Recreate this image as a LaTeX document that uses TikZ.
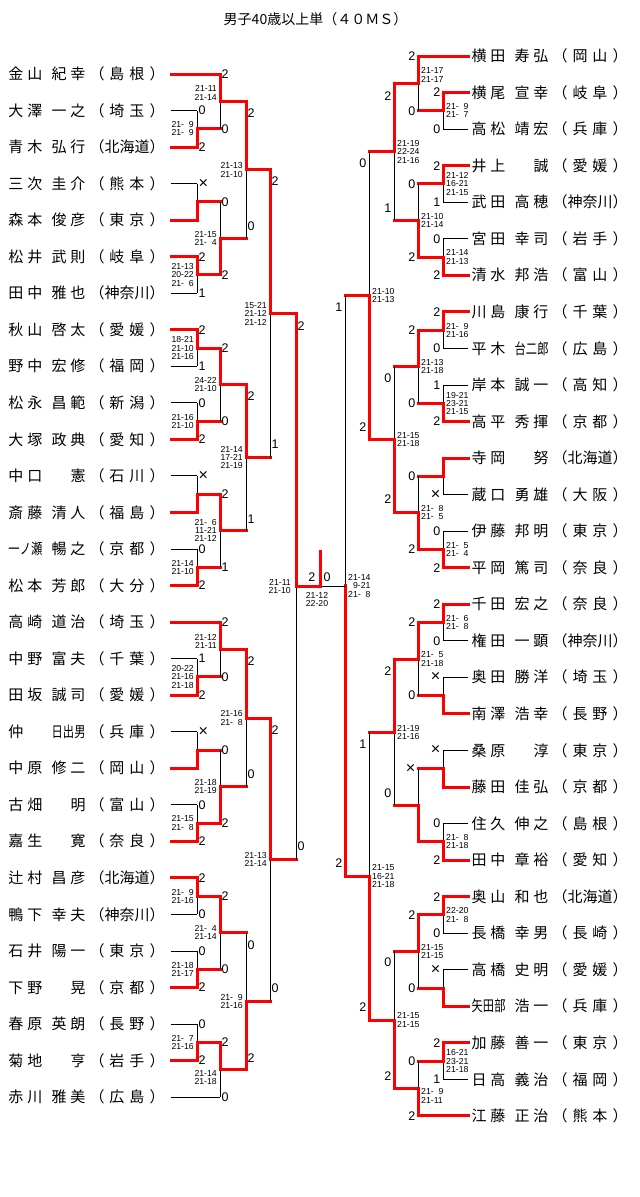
\documentclass[tikz,border=0pt]{standalone}
\usepackage{fontspec}
\usepackage{graphicx}
\usetikzlibrary{calc}
\newfontfamily\jpf{Noto Sans CJK JP}
\newfontfamily\libf{Liberation Sans}
\newcommand\cz[1]{\scalebox{0.75}[1]{#1}}
\newcommand\zs{\hphantom{0}}
\newcommand\nmtwo[2]{#1\hfill #2}
\newcommand\nmthr[3]{\cz{#1}\hfill\cz{#2}\hfill\cz{#3}}
\newcommand\nmone[1]{\hfill #1}
\newcommand\pfa[2]{（\hfill #1\hfill #2\hfill ）}
\newcommand\pfb[3]{（\hfill #1\hfill #2\hfill #3\hfill ）}
\newcommand\xx{\scalebox{1.3}{×}}
\newcounter{nn}
\tikzset{
  nm/.style={inner sep=0pt, outer sep=0pt, anchor=base west, font=\jpf\fontsize{15}{15}\selectfont},
  ttl/.style={inner sep=0pt, anchor=base, font=\jpf\fontsize{14}{14}\selectfont},
  lose/.style={draw=black, line width=0.9pt},
  win/.style={draw=red, line width=3pt, line cap=rect, line join=miter},
  sclab/.style={inner sep=0pt, font=\libf\fontsize{12.5}{12.5}\selectfont},
  sctxt/.style={inner sep=0pt, font=\libf\fontsize{8.7}{8.2}\selectfont},
}
% players
\newcommand\plL[4]{%
  \node[nm] (nL#1s) at (8.5, {79.6+36.54*#1}) {\makebox[34pt][s]{#2}};
  \node[nm] (nL#1g) at (51.5, {79.6+36.54*#1}) {\makebox[34pt][s]{#3}};
  \node[nm] (nL#1p) at (89.5, {79.6+36.54*#1}) {\makebox[75pt][s]{#4}};
  \coordinate (L#1) at (171, {74+36.54*#1});}
\newcommand\plR[4]{%
  \node[nm] (nR#1s) at (471.5, {61.6+36.55*#1}) {\makebox[34pt][s]{#2}};
  \node[nm] (nR#1g) at (514.5, {61.6+36.55*#1}) {\makebox[34pt][s]{#3}};
  \node[nm] (nR#1p) at (552.5, {61.6+36.55*#1}) {\makebox[75pt][s]{#4}};
  \coordinate (R#1) at (468, {56+36.55*#1});}
% match: name, X, top, bottom, winner t/b, loser entrant style
\newcommand\mt[6]{%
  \path let \p1=(#3), \p2=(#4) in ({#2pt},{0.5*(\y1)+0.5*(\y2)}) coordinate (#1);
  \if#5t
    \draw[#6] (#4) -- (#4 -| #1);
    \draw[lose] (#4 -| #1) -- (#1);
    \draw[win] (#3) -| (#1);
  \else
    \draw[#6] (#3) -- (#3 -| #1);
    \draw[lose] (#3 -| #1) -- (#1);
    \draw[win] (#4) -| (#1);
  \fi}
\newcommand\labl[4][0]{\stepcounter{nn}\node[sclab,anchor=west,xshift=1.5pt,yshift=#1pt] (k\thenn) at (#2 -| #3) {#4};}
\newcommand\labr[4][0]{\stepcounter{nn}\node[sclab,anchor=east,xshift=-2.5pt,yshift=#1pt] (k\thenn) at (#2 -| #3) {#4};}
\newcommand\txl[3][0]{\stepcounter{nn}\node[sctxt,anchor=east,align=right,xshift=-3pt,yshift=#1pt] (k\thenn) at (#2) {#3};}
\newcommand\txr[3][0]{\stepcounter{nn}\node[sctxt,anchor=west,align=left,xshift=3pt,yshift=#1pt] (k\thenn) at (#2) {#3};}
\begin{document}
\begin{tikzpicture}[x=1pt,y=-1pt]
\fill[white] (0,0) rectangle (640,1197);
\useasboundingbox (0,0) rectangle (640,1197);
\node[ttl] (title) at (315.5,24.3) {男子40歳以上単（４０ＭＳ）};
% left players
\plL{0}{\nmtwo{金}{山}}{\nmtwo{紀}{幸}}{\pfa{島}{根}}
\plL{1}{\nmtwo{大}{澤}}{\nmtwo{一}{之}}{\pfa{埼}{玉}}
\plL{2}{\nmtwo{青}{木}}{\nmtwo{弘}{行}}{\pfb{北}{海}{道}}
\plL{3}{\nmtwo{三}{次}}{\nmtwo{圭}{介}}{\pfa{熊}{本}}
\plL{4}{\nmtwo{森}{本}}{\nmtwo{俊}{彦}}{\pfa{東}{京}}
\plL{5}{\nmtwo{松}{井}}{\nmtwo{武}{則}}{\pfa{岐}{阜}}
\plL{6}{\nmtwo{田}{中}}{\nmtwo{雅}{也}}{\pfb{神}{奈}{川}}
\plL{7}{\nmtwo{秋}{山}}{\nmtwo{啓}{太}}{\pfa{愛}{媛}}
\plL{8}{\nmtwo{野}{中}}{\nmtwo{宏}{修}}{\pfa{福}{岡}}
\plL{9}{\nmtwo{松}{永}}{\nmtwo{昌}{範}}{\pfa{新}{潟}}
\plL{10}{\nmtwo{大}{塚}}{\nmtwo{政}{典}}{\pfa{愛}{知}}
\plL{11}{\nmtwo{中}{口}}{\nmone{憲}}{\pfa{石}{川}}
\plL{12}{\nmtwo{斎}{藤}}{\nmtwo{清}{人}}{\pfa{福}{島}}
\plL{13}{\nmthr{一}{ノ}{瀬}}{\nmtwo{暢}{之}}{\pfa{京}{都}}
\plL{14}{\nmtwo{松}{本}}{\nmtwo{芳}{郎}}{\pfa{大}{分}}
\plL{15}{\nmtwo{高}{崎}}{\nmtwo{道}{治}}{\pfa{埼}{玉}}
\plL{16}{\nmtwo{中}{野}}{\nmtwo{富}{夫}}{\pfa{千}{葉}}
\plL{17}{\nmtwo{田}{坂}}{\nmtwo{誠}{司}}{\pfa{愛}{媛}}
\plL{18}{仲\hfill}{\nmthr{日}{出}{男}}{\pfa{兵}{庫}}
\plL{19}{\nmtwo{中}{原}}{\nmtwo{修}{二}}{\pfa{岡}{山}}
\plL{20}{\nmtwo{古}{畑}}{\nmone{明}}{\pfa{富}{山}}
\plL{21}{\nmtwo{嘉}{生}}{\nmone{寛}}{\pfa{奈}{良}}
\plL{22}{\nmtwo{辻}{村}}{\nmtwo{昌}{彦}}{\pfb{北}{海}{道}}
\plL{23}{\nmtwo{鴨}{下}}{\nmtwo{幸}{夫}}{\pfb{神}{奈}{川}}
\plL{24}{\nmtwo{石}{井}}{\nmtwo{陽}{一}}{\pfa{東}{京}}
\plL{25}{\nmtwo{下}{野}}{\nmone{晃}}{\pfa{京}{都}}
\plL{26}{\nmtwo{春}{原}}{\nmtwo{英}{朗}}{\pfa{長}{野}}
\plL{27}{\nmtwo{菊}{地}}{\nmone{亨}}{\pfa{岩}{手}}
\plL{28}{\nmtwo{赤}{川}}{\nmtwo{雅}{美}}{\pfa{広}{島}}
% right players
\plR{0}{\nmtwo{横}{田}}{\nmtwo{寿}{弘}}{\pfa{岡}{山}}
\plR{1}{\nmtwo{横}{尾}}{\nmtwo{宣}{幸}}{\pfa{岐}{阜}}
\plR{2}{\nmtwo{高}{松}}{\nmtwo{靖}{宏}}{\pfa{兵}{庫}}
\plR{3}{\nmtwo{井}{上}}{\nmone{誠}}{\pfa{愛}{媛}}
\plR{4}{\nmtwo{武}{田}}{\nmtwo{高}{穂}}{\pfb{神}{奈}{川}}
\plR{5}{\nmtwo{宮}{田}}{\nmtwo{幸}{司}}{\pfa{岩}{手}}
\plR{6}{\nmtwo{清}{水}}{\nmtwo{邦}{浩}}{\pfa{富}{山}}
\plR{7}{\nmtwo{川}{島}}{\nmtwo{康}{行}}{\pfa{千}{葉}}
\plR{8}{\nmtwo{平}{木}}{\nmthr{台}{二}{郎}}{\pfa{広}{島}}
\plR{9}{\nmtwo{岸}{本}}{\nmtwo{誠}{一}}{\pfa{高}{知}}
\plR{10}{\nmtwo{高}{平}}{\nmtwo{秀}{揮}}{\pfa{京}{都}}
\plR{11}{\nmtwo{寺}{岡}}{\nmone{努}}{\pfb{北}{海}{道}}
\plR{12}{\nmtwo{蔵}{口}}{\nmtwo{勇}{雄}}{\pfa{大}{阪}}
\plR{13}{\nmtwo{伊}{藤}}{\nmtwo{邦}{明}}{\pfa{東}{京}}
\plR{14}{\nmtwo{平}{岡}}{\nmtwo{篤}{司}}{\pfa{奈}{良}}
\plR{15}{\nmtwo{千}{田}}{\nmtwo{宏}{之}}{\pfa{奈}{良}}
\plR{16}{\nmtwo{権}{田}}{\nmtwo{一}{顕}}{\pfb{神}{奈}{川}}
\plR{17}{\nmtwo{奥}{田}}{\nmtwo{勝}{洋}}{\pfa{埼}{玉}}
\plR{18}{\nmtwo{南}{澤}}{\nmtwo{浩}{幸}}{\pfa{長}{野}}
\plR{19}{\nmtwo{桑}{原}}{\nmone{淳}}{\pfa{東}{京}}
\plR{20}{\nmtwo{藤}{田}}{\nmtwo{佳}{弘}}{\pfa{京}{都}}
\plR{21}{\nmtwo{住}{久}}{\nmtwo{伸}{之}}{\pfa{島}{根}}
\plR{22}{\nmtwo{田}{中}}{\nmtwo{章}{裕}}{\pfa{愛}{知}}
\plR{23}{\nmtwo{奥}{山}}{\nmtwo{和}{也}}{\pfb{北}{海}{道}}
\plR{24}{\nmtwo{長}{橋}}{\nmtwo{幸}{男}}{\pfa{長}{崎}}
\plR{25}{\nmtwo{高}{橋}}{\nmtwo{史}{明}}{\pfa{愛}{媛}}
\plR{26}{\nmthr{矢}{田}{部}}{\nmtwo{浩}{一}}{\pfa{兵}{庫}}
\plR{27}{\nmtwo{加}{藤}}{\nmtwo{善}{一}}{\pfa{東}{京}}
\plR{28}{\nmtwo{日}{高}}{\nmtwo{義}{治}}{\pfa{福}{岡}}
\plR{29}{\nmtwo{江}{藤}}{\nmtwo{正}{治}}{\pfa{熊}{本}}
% left bracket
\mt{A1}{197}{L1}{L2}{b}{lose}
\mt{A2}{220}{L0}{A1}{t}{win}
\mt{A3}{197}{L3}{L4}{b}{lose}
\mt{A4}{197}{L5}{L6}{t}{lose}
\mt{A5}{220}{A3}{A4}{b}{win}
\mt{A6}{246}{A2}{A5}{t}{win}
\mt{B1}{197}{L7}{L8}{t}{lose}
\mt{B2}{197}{L9}{L10}{b}{lose}
\mt{B3}{220}{B1}{B2}{t}{win}
\mt{B4}{197}{L11}{L12}{b}{lose}
\mt{B5}{197}{L13}{L14}{b}{lose}
\mt{B6}{220}{B4}{B5}{t}{win}
\mt{B7}{246}{B3}{B6}{t}{win}
\mt{B8}{270}{A6}{B7}{t}{win}
\mt{C1}{197}{L16}{L17}{b}{lose}
\mt{C2}{220}{L15}{C1}{t}{win}
\mt{C3}{197}{L18}{L19}{b}{lose}
\mt{C4}{197}{L20}{L21}{b}{lose}
\mt{C5}{220}{C3}{C4}{b}{win}
\mt{C6}{246}{C2}{C5}{t}{win}
\mt{D1}{197}{L22}{L23}{t}{lose}
\mt{D2}{197}{L24}{L25}{b}{lose}
\mt{D3}{220}{D1}{D2}{t}{win}
\mt{D4}{197}{L26}{L27}{b}{lose}
\mt{D5}{220}{D4}{L28}{t}{lose}
\mt{D6}{246}{D3}{D5}{b}{win}
\mt{D7}{270}{C6}{D6}{t}{win}
\mt{LF}{296}{B8}{D7}{t}{win}
% right bracket
\mt{a1}{443}{R1}{R2}{t}{lose}
\mt{a4}{418}{R0}{a1}{t}{win}
\mt{a2}{443}{R3}{R4}{t}{lose}
\mt{a3}{443}{R5}{R6}{b}{lose}
\mt{a5}{418}{a2}{a3}{b}{win}
\mt{a6}{394}{a4}{a5}{t}{win}
\mt{b1}{443}{R7}{R8}{t}{lose}
\mt{b2}{443}{R9}{R10}{b}{lose}
\mt{b5}{418}{b1}{b2}{t}{win}
\mt{b3}{443}{R11}{R12}{t}{lose}
\mt{b4}{443}{R13}{R14}{b}{lose}
\mt{b6}{418}{b3}{b4}{b}{win}
\mt{b7}{394}{b5}{b6}{b}{win}
\mt{b8}{369}{a6}{b7}{b}{win}
\mt{c1}{443}{R15}{R16}{t}{lose}
\mt{c2}{443}{R17}{R18}{b}{lose}
\mt{c5}{418}{c1}{c2}{t}{win}
\mt{c3}{443}{R19}{R20}{b}{lose}
\mt{c4}{443}{R21}{R22}{b}{lose}
\mt{c6}{418}{c3}{c4}{b}{win}
\mt{c7}{394}{c5}{c6}{t}{win}
\mt{d1}{443}{R23}{R24}{t}{lose}
\mt{d2}{443}{R25}{R26}{b}{lose}
\mt{d4}{418}{d1}{d2}{t}{win}
\mt{d3}{443}{R27}{R28}{t}{lose}
\mt{d5}{418}{d3}{R29}{b}{win}
\mt{d6}{394}{d4}{d5}{b}{win}
\mt{d7}{369}{c7}{d6}{b}{win}
\mt{RF}{345}{b8}{d7}{b}{win}
% final
\coordinate (champ) at (320,551.5);
\coordinate (F) at (LF -| champ);
\draw[lose] (RF) -- (RF |- F) -- (F);
\draw[win] (LF) -| (champ);
\node[sclab,anchor=east,xshift=-4.5pt,yshift=10pt] (kF1) at (F) {2};
\node[sclab,anchor=west,xshift=3.5pt,yshift=10pt] (kF2) at (F) {0};
\node[sctxt,align=center,xshift=-3pt,yshift=-12.5pt] (ktxF) at (F) {21-12\\22-20};
\node[sctxt,anchor=east,align=right,xshift=-5pt] (ktxLF) at (LF) {21-11\\21-10};
% left labels R1
\labl{L1}{A1}{0}\labl{L2}{A1}{2}
\labl{L3}{A3}{\xx}
\labl{L5}{A4}{2}\labl{L6}{A4}{1}
\labl{L7}{B1}{2}\labl{L8}{B1}{1}
\labl{L9}{B2}{0}\labl{L10}{B2}{2}
\labl{L11}{B4}{\xx}
\labl{L13}{B5}{0}\labl{L14}{B5}{2}
\labl{L16}{C1}{1}\labl{L17}{C1}{2}
\labl{L18}{C3}{\xx}
\labl{L20}{C4}{0}\labl{L21}{C4}{2}
\labl{L22}{D1}{2}\labl{L23}{D1}{0}
\labl{L24}{D2}{0}\labl{L25}{D2}{2}
\labl{L26}{D4}{0}\labl{L27}{D4}{2}
% left labels R2
\labl{L0}{A2}{2}\labl{A1}{A2}{0}
\labl{A3}{A5}{0}\labl{A4}{A5}{2}
\labl{B1}{B3}{2}\labl{B2}{B3}{0}
\labl{B4}{B6}{2}\labl{B5}{B6}{1}
\labl{L15}{C2}{2}\labl{C1}{C2}{0}
\labl{C3}{C5}{0}\labl{C4}{C5}{2}
\labl{D1}{D3}{2}\labl{D2}{D3}{0}
\labl{D4}{D5}{2}\labl{L28}{D5}{0}
% left labels R3-R5
\labl[-12]{A2}{A6}{2}\labl[12]{A5}{A6}{0}
\labl[-12]{B3}{B7}{2}\labl[12]{B6}{B7}{1}
\labl[-12]{C2}{C6}{2}\labl[12]{C5}{C6}{0}
\labl[-12]{D3}{D6}{0}\labl[12]{D5}{D6}{2}
\labl[-11]{A6}{B8}{2}\labl[13]{B7}{B8}{1}
\labl[-12]{C6}{D7}{2}\labl[13]{D6}{D7}{0}
\labl[-12]{B8}{LF}{2}\labl[13]{D7}{LF}{0}
% right labels R1
\labr{R1}{a1}{2}\labr{R2}{a1}{0}
\labr{R3}{a2}{2}\labr{R4}{a2}{1}
\labr{R5}{a3}{0}\labr{R6}{a3}{2}
\labr{R7}{b1}{2}\labr{R8}{b1}{0}
\labr{R9}{b2}{1}\labr{R10}{b2}{2}
\labr{R12}{b3}{\xx}
\labr{R13}{b4}{0}\labr{R14}{b4}{2}
\labr{R15}{c1}{2}\labr{R16}{c1}{0}
\labr{R17}{c2}{\xx}
\labr{R19}{c3}{\xx}
\labr{R21}{c4}{0}\labr{R22}{c4}{2}
\labr{R23}{d1}{2}\labr{R24}{d1}{0}
\labr{R25}{d2}{\xx}
\labr{R27}{d3}{2}\labr{R28}{d3}{1}
% right labels R2
\labr{R0}{a4}{2}\labr{a1}{a4}{0}
\labr{a2}{a5}{0}\labr{a3}{a5}{2}
\labr{b1}{b5}{2}\labr{b2}{b5}{0}
\labr{b3}{b6}{0}\labr{b4}{b6}{2}
\labr{c1}{c5}{2}\labr{c2}{c5}{0}
\labr{c3}{c6}{\xx}
\labr{d1}{d4}{2}\labr{d2}{d4}{0}
\labr{d3}{d5}{0}\labr{R29}{d5}{2}
% right labels R3-R5
\labr[-13]{a4}{a6}{2}\labr[12]{a5}{a6}{1}
\labr[-12]{b5}{b7}{0}\labr[14]{b6}{b7}{2}
\labr[-12]{c5}{c7}{2}\labr[12]{c6}{c7}{0}
\labr[-11]{d4}{d6}{0}\labr[12]{d5}{d6}{2}
\labr[-11]{a6}{b8}{0}\labr[13]{b7}{b8}{2}
\labr[-12]{c7}{d7}{1}\labr[13]{d6}{d7}{2}
\labr[-11]{b8}{RF}{1}\labr[13]{d7}{RF}{2}
% left game scores
\txl{A1}{21-\zs 9\\21-\zs 9}
\txl[8.4]{A2}{21-11\\21-14}
\txl{A4}{21-13\\20-22\\21-\zs 6}
\txl{A5}{21-15\\21-\zs 4}
\txl{A6}{21-13\\21-10}
\txl{B1}{18-21\\21-10\\21-16}
\txl{B2}{21-16\\21-10}
\txl{B3}{24-22\\21-10}
\txl{B5}{21-14\\21-10}
\txl{B6}{21-\zs 6\\11-21\\21-12}
\txl{B7}{21-14\\17-21\\21-19}
\txl{B8}{15-21\\21-12\\21-12}
\txl{C1}{20-22\\21-16\\21-18}
\txl[8]{C2}{21-12\\21-11}
\txl{C4}{21-15\\21-\zs 8}
\txl{C5}{21-18\\21-19}
\txl{C6}{21-16\\21-\zs 8}
\txl{D1}{21-\zs 9\\21-16}
\txl{D2}{21-18\\21-17}
\txl{D3}{21-\zs 4\\21-14}
\txl{D4}{21-\zs 7\\21-16}
\txl[-8]{D5}{21-14\\21-18}
\txl{D6}{21-\zs 9\\21-16}
\txl{D7}{21-13\\21-14}
% right game scores
\txr{a1}{21-\zs 9\\21-\zs 7}
\txr{a2}{21-12\\16-21\\21-15}
\txr{a3}{21-14\\21-13}
\txr[8.4]{a4}{21-17\\21-17}
\txr{a5}{21-10\\21-14}
\txr{a6}{21-19\\22-24\\21-16}
\txr{b8}{21-10\\21-13}
\txr{b1}{21-\zs 9\\21-16}
\txr{b5}{21-13\\21-18}
\txr{b2}{19-21\\23-21\\21-15}
\txr{b7}{21-15\\21-18}
\txr{b6}{21-\zs 8\\21-\zs 5}
\txr{b4}{21-\zs 5\\21-\zs 4}
\txr{RF}{21-14\\\zs 9-21\\21-\zs 8}
\txr{c1}{21-\zs 6\\21-\zs 8}
\txr{c5}{21-\zs 5\\21-18}
\txr{c7}{21-19\\21-16}
\txr{c4}{21-\zs 8\\21-18}
\txr{d7}{21-15\\16-21\\21-18}
\txr{d1}{22-20\\21-\zs 8}
\txr{d4}{21-15\\21-15}
\txr{d6}{21-15\\21-15}
\txr{d3}{16-21\\23-21\\21-18}
\txr[-7.5]{d5}{21-\zs 9\\21-11}
\end{tikzpicture}
\end{document}
